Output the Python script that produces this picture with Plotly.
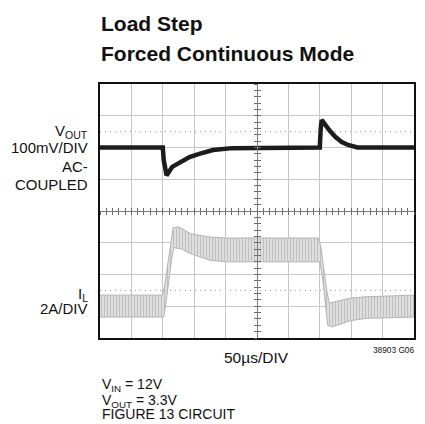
import plotly.graph_objects as go

# ---- data (oscilloscope divisions: x 0..10 @ 50us/div, y -4..4 div) ----
vout_t = [0, 2.0, 2.03, 2.12, 2.3, 2.55, 2.85, 3.16, 3.6, 4.2, 7.0, 7.03, 7.06, 7.3, 7.5, 7.7, 7.9, 8.2, 10]
vout_v = [2.0, 2.0, 1.6, 1.12, 1.39, 1.54, 1.70, 1.80, 1.92, 1.98, 2.0, 2.6, 2.87, 2.55, 2.33, 2.17, 2.08, 2.0, 2.0]

il_up_t = [0, 1.98, 2.05, 2.25, 2.33, 2.5, 2.9, 3.5, 4.0, 6.95, 7.03, 7.22, 7.3, 8.0, 8.5, 10]
il_up_v = [-2.65, -2.65, -2.4, -1.0, -0.53, -0.5, -0.72, -0.82, -0.85, -0.85, -1.1, -2.5, -2.9, -2.74, -2.7, -2.65]
il_lo_t = [0, 2.03, 2.1, 2.27, 2.35, 2.6, 2.9, 3.5, 4.0, 7.0, 7.1, 7.25, 7.4, 8.0, 8.5, 10]
il_lo_v = [-3.34, -3.34, -2.9, -1.6, -1.15, -1.2, -1.35, -1.55, -1.6, -1.6, -2.2, -3.6, -3.65, -3.45, -3.38, -3.34]

ref_levels = [2.5, -2.5]

W, H = 425, 424
L, R, T, B = 100, 416, 84, 338

FONT = "Liberation Sans, Arial, sans-serif"


def px(x):
    return (x - L) / (R - L)


def py(y):
    return (B - y) / (B - T)


fig = go.Figure()

# inductor current ripple band
band_x = il_up_t + il_lo_t[::-1]
band_y = il_up_v + il_lo_v[::-1]
fig.add_trace(go.Scatter(
    x=band_x, y=band_y, mode="lines", fill="toself",
    fillcolor="#e2e2e2",
    fillpattern=dict(shape="|", size=3, solidity=0.4, fgcolor="#9c9c9c"),
    line=dict(color="#b4b4b4", width=1), hoverinfo="skip"))

# output voltage
fig.add_trace(go.Scatter(x=vout_t, y=vout_v, mode="lines",
                         line=dict(color="#1c1c1c", width=4.5), hoverinfo="skip"))

# dummy traces for centre graticule axes
for xa, ya in [("x2", "y"), ("x3", "y"), ("x", "y2"), ("x", "y3")]:
    fig.add_trace(go.Scatter(x=[None], y=[None], xaxis=xa, yaxis=ya, hoverinfo="skip"))

for lvl in ref_levels:
    fig.add_shape(type="line", xref="x", yref="y", x0=0, x1=10, y0=lvl, y1=lvl,
                  line=dict(color="#9a9a9a", width=1, dash="1px,4px"), layer="below")

grid = dict(showgrid=True, gridcolor="#c6c6c6", gridwidth=1, zeroline=False,
            showticklabels=False, ticks="", showline=True, mirror=True,
            linecolor="#111", linewidth=2, fixedrange=True)
center = dict(showgrid=False, zeroline=False, showticklabels=False, showline=True,
              linecolor="#7a7a7a", linewidth=1, tickcolor="#6a6a6a", ticklen=3,
              tickwidth=1, anchor="free", position=0.5)

fig.update_layout(
    width=W, height=H, margin=dict(l=L, r=W - R, t=T, b=H - B),
    paper_bgcolor="white", plot_bgcolor="white", showlegend=False,
    xaxis=dict(range=[0, 10], dtick=1, **grid),
    yaxis=dict(range=[-4, 4], dtick=1, **grid),
    xaxis2=dict(range=[0, 10], dtick=0.2, ticks="outside", overlaying="x", **center),
    xaxis3=dict(range=[0, 10], dtick=0.2, ticks="inside", overlaying="x", **center),
    yaxis2=dict(range=[-4, 4], dtick=0.2, ticks="outside", overlaying="y", **center),
    yaxis3=dict(range=[-4, 4], dtick=0.2, ticks="inside", overlaying="y", **center),
)


def ann(text, x, y, size, xanchor="left", weight="normal", color="#111"):
    fig.add_annotation(text=text, x=px(x), y=py(y), xref="paper", yref="paper",
                       xanchor=xanchor, yanchor="middle", showarrow=False,
                       font=dict(family=FONT, size=size, color=color, weight=weight))


ann("Load Step", 99, 24, 21, weight="bold")
ann("Forced Continuous Mode", 99, 53.5, 21, weight="bold")

ann("V<sub>OUT</sub>", 90, 131, 15, xanchor="right")
ann("100mV/DIV", 90, 147.5, 15, xanchor="right")
ann("AC-", 90, 166, 15, xanchor="right")
ann("COUPLED", 90, 184, 15, xanchor="right")
ann("I<sub>L</sub>", 90, 294, 15, xanchor="right")
ann("2A/DIV", 90, 308, 15, xanchor="right")

ann("50µs/DIV", 257, 357, 15.5, xanchor="center")
ann("38903 G06", 418, 350, 8.3, xanchor="right")

ann("V<sub>IN</sub> = 12V", 100, 385, 14)
ann("V<sub>OUT</sub> = 3.3V", 100, 400.5, 14)
ann("FIGURE 13 CIRCUIT", 100, 414, 14)

fig.write_html("out.html", config={"displayModeBar": False},
               post_script="document.body.style.margin='0';document.body.style.overflow='hidden';")
